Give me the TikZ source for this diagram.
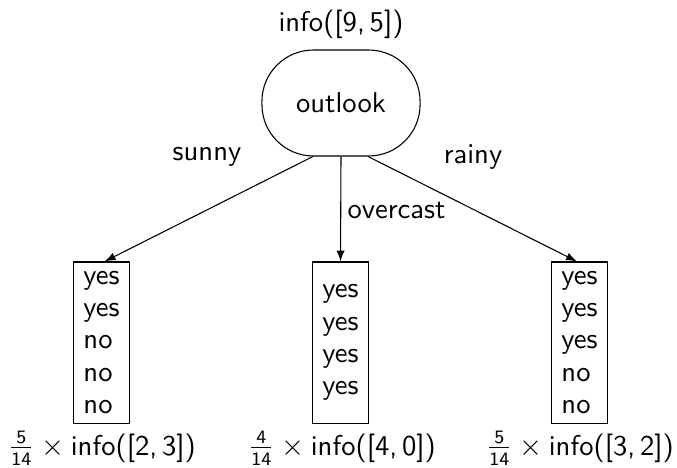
\documentclass[tikz,border=0pt]{standalone}
\renewcommand{\familydefault}{\sfdefault}
\newcommand{\sfrac}[2]{\frac{\mathsf{#1}}{\mathsf{#2}}}
\begin{document}
\begin{tikzpicture}[x=0.37pt,y=-0.37pt,>=latex,
  every node/.style={font=\fontsize{10.6pt}{11.9pt}\selectfont},
  leaf/.style={draw, minimum width=20.4pt, minimum height=59.6pt, inner sep=0pt, align=left}]
\useasboundingbox (0,0) rectangle (677,468);

\node[anchor=base] (gain) at (341,32) {info([9,\,5])};
\node[draw, rounded corners=19pt, minimum width=58.5pt, minimum height=39.2pt] (outlook) at (341,103) {outlook};

\node[leaf] (sunnyset) at (101.5,342.5) {yes\\yes\\no\\no\\no};
\node[leaf] (overset) at (340.5,342.5) {yes\\yes\\yes\\yes};
\node[leaf] (rainyset) at (579.5,342.5) {yes\\yes\\yes\\no\\no};

\node[anchor=base] (sunny) at (207,161) {sunny};
\node[anchor=base] (rainy) at (473,164) {rainy};
\node[anchor=base west, inner sep=0pt] (overcast) at (347,218) {overcast};

\node[anchor=base] (sunnyinfo) at (102,455) {$\sfrac{5}{14}\times\mbox{info([2,\,3])}$};
\node[anchor=base] (overinfo) at (342,455) {$\sfrac{4}{14}\times\mbox{info([4,\,0])}$};
\node[anchor=base] (rainyinfo) at (580,455) {$\sfrac{5}{14}\times\mbox{info([3,\,2])}$};

\draw[->] ([xshift=-10.4pt]outlook.south) -- ([xshift=1.2pt]sunnyset.north);
\draw[->] (outlook.south) -- (overset.north);
\draw[->] ([xshift=10pt]outlook.south) -- ([xshift=-1pt]rainyset.north);
\end{tikzpicture}
\end{document}
